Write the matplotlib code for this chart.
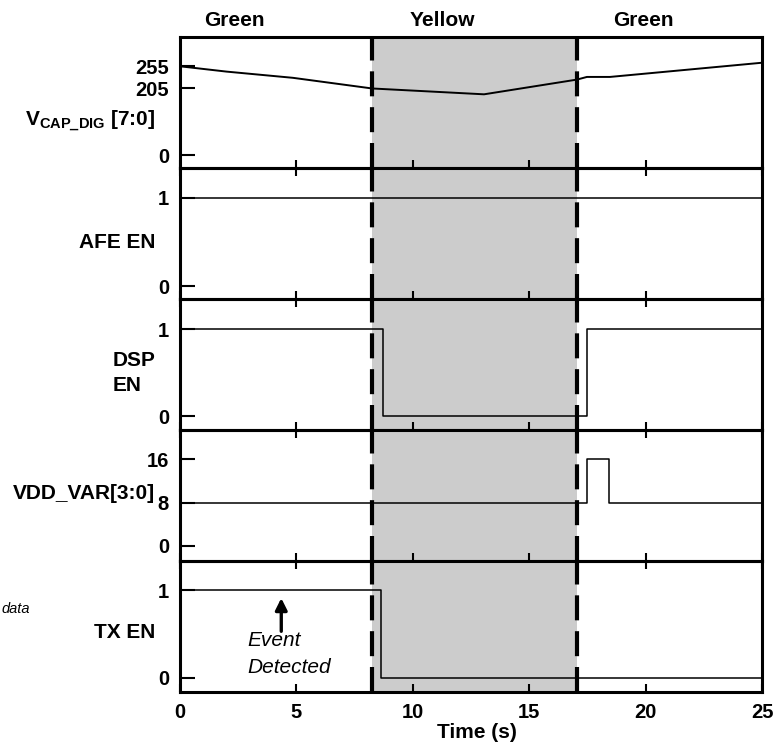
import numpy as np
import matplotlib
matplotlib.use("Agg")
import matplotlib.pyplot as plt

plt.rcParams['font.family'] = ['Liberation Sans', 'DejaVu Sans']
plt.rcParams['font.weight'] = 'bold'
plt.rcParams['mathtext.fontset'] = 'custom'
plt.rcParams['mathtext.rm'] = 'Liberation Sans:bold'
plt.rcParams['mathtext.bf'] = 'Liberation Sans:bold'
plt.rcParams['mathtext.it'] = 'Liberation Sans:bold'

# ---- data ----
vcap_t = [0, 2.0, 4.85, 8.25, 13.06, 17.05, 17.48, 18.47, 25]
vcap_v = [255, 243, 229, 205, 187, 225, 231, 231, 263]

afe_t = [0, 25]
afe_v = [1, 1]

dsp_t = [0, 8.7, 17.47, 25]
dsp_v = [1, 0, 1, 1]

vdd_t = [0, 17.47, 18.43, 25]
vdd_v = [8, 16, 8, 8]

tx_t = [0, 8.65, 25]
tx_v = [1, 0, 0]

phase_labels = ["Green", "Yellow", "Green"]
phase_label_x = [2.34, 11.27, 19.9]
yellow_start, yellow_end = 8.25, 17.05

xticks = [0, 5, 10, 15, 20, 25]

# ---- figure ----
fig = plt.figure(figsize=(7.74, 7.43), dpi=100)
left, right = 180 / 774, 762 / 774
top, bottom = 1 - 37 / 743, 1 - 692 / 743
h = (top - bottom) / 5
axes = [fig.add_axes([left, top - (i + 1) * h, right - left, h]) for i in range(5)]

FS = 14.5
LFS = 15
spine_lw = 2.2


def fwd(v):
    v = np.asarray(v, dtype=float)
    return np.where(v <= 205, v * 66 / 205, 66 + (v - 205) * 0.44)


def inv(p):
    p = np.asarray(p, dtype=float)
    return np.where(p <= 66, p * 205 / 66, 205 + (p - 66) / 0.44)


series = [
    (vcap_t, vcap_v, 'linear', 1.4),
    (afe_t, afe_v, 'step', 1.1),
    (dsp_t, dsp_v, 'step', 1.1),
    (vdd_t, vdd_v, 'step', 1.1),
    (tx_t, tx_v, 'step', 1.1),
]
ylims = [(-40, 321), (-0.147, 1.336), (-0.16, 1.345), (-2.8, 21.4), (-0.165, 1.335)]
yticks = [[0, 205, 255], [0, 1], [0, 1], [0, 8, 16], [0, 1]]

for i, ax in enumerate(axes):
    t, v, kind, lw = series[i]
    if i == 0:
        ax.set_yscale('function', functions=(fwd, inv))
    if kind == 'step':
        ax.step(t, v, where='post', color='black', lw=lw, zorder=3)
    else:
        ax.plot(t, v, color='black', lw=lw, zorder=3)
    ax.set_xlim(0, 25)
    ax.set_ylim(*ylims[i])
    ax.set_yticks(yticks[i])
    ax.set_yticklabels([str(y) for y in yticks[i]], fontsize=FS, fontweight='bold')
    ax.axvspan(yellow_start, yellow_end, color='#cccccc', lw=0, zorder=0)
    ax.axvline(yellow_start, color='black', lw=3.0, dashes=(6, 2.6), zorder=4)
    ax.axvline(yellow_end, color='black', lw=3.0, dashes=(6, 2.6), zorder=4)
    for s in ax.spines.values():
        s.set_linewidth(spine_lw)
        s.set_zorder(5)
    ax.tick_params(axis='y', direction='in', length=10.8, width=1.5, pad=8)
    ax.set_xticks(xticks)
    if i < 4:
        ax.tick_params(axis='x', direction='inout', length=12, width=1.5,
                       labelbottom=False)
    else:
        ax.tick_params(axis='x', direction='in', length=6, width=1.5, pad=8,
                       labelsize=FS)
        ax.set_xticklabels([str(x) for x in xticks], fontweight='bold')
    ax.patch.set_alpha(0)

# phase labels
for lab, x in zip(phase_labels, phase_label_x):
    axes[0].text(x, 1 + 17 / 131, lab, transform=axes[0].get_xaxis_transform(),
                 ha='center', va='center', fontsize=LFS, fontweight='bold')

# y-axis names
lx = (155 - 180) / 582
axes[0].text(lx, 90, r"V$_{\mathregular{CAP\_DIG}}$ [7:0]", transform=axes[0].get_yaxis_transform(),
             ha='right', va='baseline', fontsize=LFS, fontweight='bold')
axes[1].text(lx, 0.427, "AFE EN", transform=axes[1].get_yaxis_transform(),
             ha='right', va='baseline', fontsize=LFS, fontweight='bold')
dx = (113 - 180) / 582
axes[2].text(dx, 0.574, "DSP", transform=axes[2].get_yaxis_transform(),
             ha='left', va='baseline', fontsize=LFS, fontweight='bold')
axes[2].text(dx, 0.288, "EN", transform=axes[2].get_yaxis_transform(),
             ha='left', va='baseline', fontsize=LFS, fontweight='bold')
axes[3].text(lx, 8.57, "VDD_VAR[3:0]", transform=axes[3].get_yaxis_transform(),
             ha='right', va='baseline', fontsize=LFS, fontweight='bold')
axes[4].text(lx, 0.454, "TX EN", transform=axes[4].get_yaxis_transform(),
             ha='right', va='baseline', fontsize=LFS, fontweight='bold')

# Event annotation
axes[4].annotate("", xy=(4.35, 0.91), xytext=(4.35, 0.53),
                 arrowprops=dict(arrowstyle='-|>,head_length=0.7,head_width=0.35',
                                 color='black', lw=2.4, shrinkA=0, shrinkB=0))
axes[4].text(2.88, 0.357, "Event", fontsize=15, fontstyle='italic',
             fontweight='normal', ha='left', va='baseline')
axes[4].text(2.88, 0.058, "Detected", fontsize=15, fontstyle='italic',
             fontweight='normal', ha='left', va='baseline')

# side note at the left edge
fig.text(1 / 774, 1 - 613 / 743, "data", fontsize=10.5, fontstyle='italic',
         fontweight='normal', ha='left', va='baseline')

axes[4].set_xlabel("Time (s)", fontsize=LFS, fontweight='bold')
axes[4].xaxis.set_label_coords((476.7 - 180) / 582, -(733 - 692) / 131)
axes[4].xaxis.label.set_va('center')

fig.savefig("out.png", dpi=100)
